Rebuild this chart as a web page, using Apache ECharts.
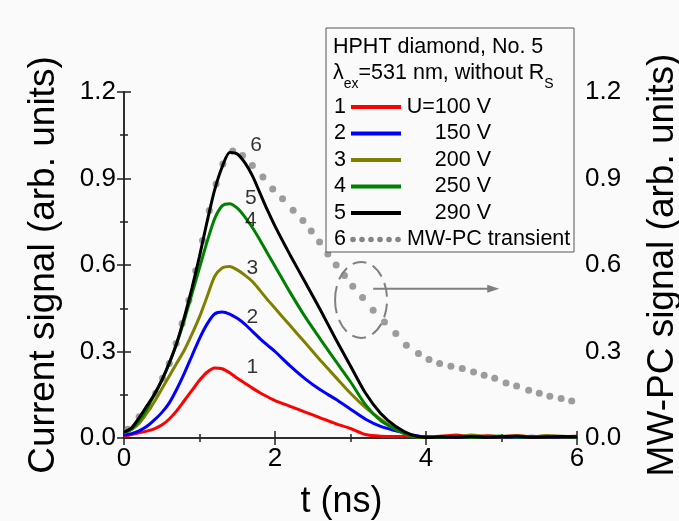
<!DOCTYPE html>
<html>
<head>
<meta charset="utf-8">
<script src="https://cdn.jsdelivr.net/npm/echarts@6/dist/echarts.min.js"></script>
<style>
  html, body { margin: 0; padding: 0; background: #fafafa; }
  #chart { width: 679px; height: 521px; }
</style>
</head>
<body>
<div id="chart"></div>
<script>
// time axis (ns) shared by the current transients
const tCurve = [0, 0.1, 0.2, 0.3, 0.4, 0.5, 0.6, 0.7, 0.8, 0.9, 1.0, 1.1, 1.2, 1.3, 1.4, 1.5, 1.6, 1.7, 1.8, 1.9, 2.0,
  2.2, 2.4, 2.6, 2.8, 3.0, 3.2, 3.4, 3.6, 3.8, 4.0,
  4.2, 4.4, 4.6, 4.8, 5.0, 5.2, 5.4, 5.6, 5.8, 6.0];

const u100 = [0.005, 0.012, 0.018, 0.024, 0.032, 0.045, 0.066, 0.095, 0.13, 0.165, 0.2, 0.228, 0.243, 0.24, 0.226, 0.207, 0.19, 0.173, 0.157, 0.143, 0.13,
  0.11, 0.09, 0.07, 0.05, 0.033, 0.012, 0.006, 0.005, 0.008, 0.005,
  0.006, 0.01, 0.004, 0.008, 0.005, 0.009, 0.004, 0.007, 0.005, 0.006];
const u150 = [0.01, 0.015, 0.025, 0.04, 0.062, 0.088, 0.122, 0.17, 0.225, 0.285, 0.345, 0.395, 0.43, 0.437, 0.43, 0.415, 0.395, 0.37, 0.345, 0.322, 0.3,
  0.25, 0.205, 0.167, 0.135, 0.1, 0.065, 0.04, 0.025, 0.012, 0.004,
  0.005, 0.003, 0.006, 0.004, 0.005, 0.003, 0.006, 0.004, 0.005, 0.004];
const u200 = [0.02, 0.03, 0.05, 0.085, 0.125, 0.17, 0.215, 0.26, 0.305, 0.36, 0.42, 0.49, 0.56, 0.59, 0.595, 0.583, 0.565, 0.543, 0.512, 0.48, 0.45,
  0.39, 0.33, 0.27, 0.212, 0.155, 0.105, 0.065, 0.03, 0.008, 0.002,
  0.006, 0.004, 0.01, 0.005, 0.004, 0.008, 0.004, 0.009, 0.005, 0.004];
const u250 = [0.02, 0.03, 0.06, 0.1, 0.15, 0.2, 0.26, 0.33, 0.41, 0.5, 0.59, 0.68, 0.76, 0.805, 0.812, 0.797, 0.767, 0.73, 0.687, 0.641, 0.596,
  0.505, 0.42, 0.343, 0.268, 0.195, 0.115, 0.06, 0.03, 0.008, 0.002,
  0.004, 0.006, 0.003, 0.005, 0.007, 0.003, 0.005, 0.004, 0.006, 0.003];
const u290 = [0.02, 0.035, 0.07, 0.11, 0.15, 0.2, 0.26, 0.33, 0.42, 0.52, 0.63, 0.75, 0.86, 0.94, 0.99, 0.985, 0.955, 0.91, 0.85, 0.79, 0.735,
  0.635, 0.54, 0.445, 0.345, 0.25, 0.155, 0.085, 0.04, 0.012, 0.002,
  0.004, 0.003, 0.005, 0.003, 0.004, 0.006, 0.003, 0.004, 0.005, 0.004];

// MW-PC transient (dotted curve, right axis)
const tPc = [0.05, 0.2, 0.33, 0.42, 0.51, 0.6, 0.69, 0.77, 0.86, 0.95, 1.04, 1.13, 1.22, 1.31, 1.44, 1.57, 1.7, 1.84, 1.97, 2.1,
  2.24, 2.37, 2.48, 2.59, 2.7, 2.81, 2.92, 3.03, 3.16, 3.3, 3.45, 3.6, 3.74, 3.9, 4.04, 4.18, 4.33, 4.48, 4.63, 4.77,
  4.91, 5.06, 5.2, 5.36, 5.5, 5.64, 5.79, 5.93];
const mwpc = [0.03, 0.074, 0.108, 0.155, 0.207, 0.258, 0.328, 0.397, 0.478, 0.58, 0.685, 0.789, 0.881, 0.95, 0.995, 0.98, 0.945, 0.905, 0.864, 0.83,
  0.79, 0.754, 0.718, 0.68, 0.638, 0.6, 0.564, 0.526, 0.487, 0.443, 0.402, 0.362, 0.322, 0.293, 0.272, 0.258, 0.249, 0.241, 0.229, 0.218,
  0.207, 0.191, 0.18, 0.166, 0.155, 0.145, 0.137, 0.128];

const seriesNames = ['U=100 V', '150 V', '200 V', '250 V', '290 V', 'MW-PC transient'];
const seriesColors = ['#ff0000', '#0000ff', '#808000', '#008000', '#000000', '#858585'];

// curve numbers written next to the peaks
const labelText = ['1', '2', '3', '4', '5', '6'];
const labelT = [1.70, 1.70, 1.70, 1.68, 1.68, 1.75];
const labelV = [0.246, 0.419, 0.588, 0.754, 0.83, 1.014];

// dashed ellipse and arrow pointing to the right axis
const ellipseAt = [3.14, 0.479];
const arrowFrom = [3.3, 0.518];
const arrowTo = [4.97, 0.518];

const yTicks = [0, 0.3, 0.6, 0.9, 1.2];

const FONT = '"Liberation Sans", Arial, sans-serif';
const AX = '#222';

const chart = echarts.init(document.getElementById('chart'));

function pairs(xs, ys) {
  return xs.map((x, i) => [x, ys[i]]);
}

function xAx(pos, withLabel) {
  return {
    type: 'value', position: pos, min: 0, max: 6, interval: 2,
    axisLine: { lineStyle: { color: AX, width: 1.5 } },
    axisTick: { inside: true, length: 7, lineStyle: { color: AX, width: 1.5 } },
    minorTick: { show: true, splitNumber: 2, length: 4, lineStyle: { color: AX, width: 1.5 } },
    splitLine: { show: false },
    axisLabel: { show: withLabel, fontSize: 26, color: '#000', fontFamily: FONT, margin: 8 },
    name: withLabel ? 't (ns)' : '',
    nameLocation: 'middle', nameGap: 46,
    nameTextStyle: { fontSize: 36, color: '#000', fontFamily: FONT, padding: [0, 18, 0, 0] }
  };
}

function yAx(pos, name, gap) {
  return {
    type: 'value', position: pos, min: yTicks[0], max: yTicks[yTicks.length - 1], interval: 0.3,
    axisLine: { show: true, lineStyle: { color: AX, width: 1.5 } },
    axisTick: { inside: true, length: 7, lineStyle: { color: AX, width: 1.5 } },
    minorTick: { show: true, splitNumber: 2, length: 4, lineStyle: { color: AX, width: 1.5 } },
    splitLine: { show: false },
    axisLabel: { fontSize: 26, color: '#000', fontFamily: FONT, margin: 8, formatter: v => v.toFixed(1) },
    name: name, nameLocation: 'middle', nameGap: gap, nameRotate: 90,
    nameTextStyle: { fontSize: 37, color: '#000', fontFamily: FONT }
  };
}

const curves = [u100, u150, u200, u250, u290];
let series = [];
for (let i = 0; i < curves.length; i++) {
  series.push({
    name: seriesNames[i],
    type: 'line',
    data: pairs(tCurve, curves[i]),
    showSymbol: false,
    smooth: 0.25,
    lineStyle: { color: seriesColors[i], width: 3 },
    itemStyle: { color: seriesColors[i] },
    z: 3 + i
  });
}
series.push({
  name: seriesNames[5],
  type: 'scatter',
  yAxisIndex: 1,
  data: pairs(tPc, mwpc),
  symbolSize: 7,
  itemStyle: { color: seriesColors[5] },
  z: 2
});
series.push({
  type: 'scatter',
  data: labelT.map((t, i) => ({ value: [t, labelV[i]], name: labelText[i] })),
  symbolSize: 1,
  itemStyle: { color: 'rgba(0,0,0,0)' },
  label: { show: true, position: 'inside', formatter: p => p.name, fontSize: 21, color: '#000', fontFamily: FONT },
  silent: true,
  z: 10
});

chart.setOption({
  backgroundColor: '#fafafa',
  animation: false,
  grid: { left: 124, right: 102, top: 92, bottom: 83, outerBoundsMode: 'none' },
  xAxis: [xAx('bottom', true), xAx('top', false)],
  yAxis: [yAx('left', 'Current signal (arb. units)', 62), yAx('right', 'MW-PC signal (arb. units)', 67)],
  series: series
});

// text width, used to chain the pieces of the line with subscripts
const measureCtx = document.createElement('canvas').getContext('2d');
function textWidth(s, size) {
  measureCtx.font = size + 'px ' + FONT;
  return measureCtx.measureText(s).width;
}

// legend box, drawn by hand to keep the numbered rows of the original
function legendGraphics() {
  const els = [];
  els.push({ type: 'rect', shape: { x: 326, y: 28, width: 248, height: 224 },
    style: { fill: '#fafafa', stroke: '#555', lineWidth: 1 }, z: 100 });
  els.push({ type: 'text', x: 333, y: 47, z: 101,
    style: { text: 'HPHT diamond, No. 5', fontSize: 21.5, fontFamily: FONT, fill: '#000', verticalAlign: 'middle' } });

  // λex=531 nm, without RS  (pieces: text, font size, vertical shift)
  const pieces = [['λ', 21.5, 0], ['ex', 14, 11], ['=531 nm, without R', 21.5, 0], ['S', 14, 11]];
  let x = 333;
  pieces.forEach(p => {
    els.push({ type: 'text', x: x, y: 73 + p[2], z: 101,
      style: { text: p[0], fontSize: p[1], fontFamily: FONT, fill: '#000', verticalAlign: 'middle' } });
    x += textWidth(p[0], p[1]);
  });

  for (let i = 0; i < seriesNames.length; i++) {
    const y = 107 + i * 26.5;
    els.push({ type: 'text', x: 334, y: y, z: 101,
      style: { text: labelText[i], fontSize: 21.5, fontFamily: FONT, fill: '#000', verticalAlign: 'middle' } });
    if (i < 5) {
      els.push({ type: 'line', z: 101, shape: { x1: 351, y1: y, x2: 401, y2: y },
        style: { stroke: seriesColors[i], lineWidth: 4 } });
      els.push({ type: 'text', x: 491, y: y, z: 101,
        style: { text: seriesNames[i], fontSize: 21.5, fontFamily: FONT, fill: '#000', align: 'right', verticalAlign: 'middle' } });
    } else {
      for (let k = 0; k < 6; k++) {
        els.push({ type: 'circle', z: 101, shape: { cx: 353 + k * 9, cy: y, r: 2.8 }, style: { fill: seriesColors[5] } });
      }
      els.push({ type: 'text', x: 407, y: y, z: 101,
        style: { text: seriesNames[i], fontSize: 21.5, fontFamily: FONT, fill: '#000', verticalAlign: 'middle' } });
    }
  }
  return els;
}

function annotationGraphics() {
  const c = chart.convertToPixel({ gridIndex: 0 }, ellipseAt);
  const a = chart.convertToPixel({ gridIndex: 0 }, arrowFrom);
  const b = chart.convertToPixel({ gridIndex: 0 }, arrowTo);
  return [
    { type: 'ellipse', z: 50, shape: { cx: c[0], cy: c[1], rx: 26, ry: 38 },
      style: { fill: 'none', stroke: '#808080', lineWidth: 2, lineDash: [14, 7] } },
    { type: 'line', z: 50, shape: { x1: a[0], y1: a[1], x2: b[0] - 8, y2: b[1] },
      style: { stroke: '#808080', lineWidth: 2 } },
    { type: 'polygon', z: 50, shape: { points: [[b[0], b[1]], [b[0] - 12, b[1] - 4], [b[0] - 12, b[1] + 4]] },
      style: { fill: '#808080' } }
  ];
}

chart.setOption({ graphic: legendGraphics().concat(annotationGraphics()) });
</script>
</body>
</html>
